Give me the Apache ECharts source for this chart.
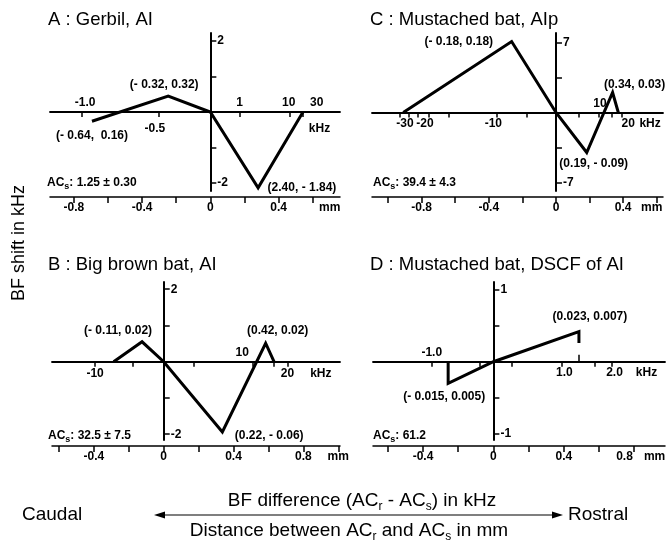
<!DOCTYPE html>
<html>
<head>
<meta charset="utf-8">
<script src="https://cdn.jsdelivr.net/npm/echarts@6/dist/echarts.min.js"></script>
<style>
  html, body { margin: 0; padding: 0; background: #fff; }
  #chart { width: 666px; height: 540px; }
</style>
</head>
<body>
<div id="chart"></div>
<script>
const FONT = '"Liberation Sans", Arial, Helvetica, sans-serif';

// A : Gerbil, AI  (distance in mm, BF shift in kHz)
const aDist  = [-0.694, -0.247, 0, 0.28, 0.543];
const aShift = [-0.26, 0.45, 0, -2.14, 0];
const aNotes = ['(- 0.64,  0.16)', '(- 0.32, 0.32)', '', '(2.40, - 1.84)', ''];

// B : Big brown bat, AI
const bDist  = [-0.287, -0.124, 0, 0.336, 0.584, 0.632];
const bShift = [0, 0.55, 0, -1.94, 0.51, 0];
const bNotes = ['', '(- 0.11, 0.02)', '', '(0.22, - 0.06)', '(0.42, 0.02)', ''];

// C : Mustached bat, AIp
const cDist  = [-0.909, -0.264, 0, 0.183, 0.337, 0.371];
const cShift = [0, 7.1, 0, -4.0, 2.0, 0];
const cNotes = ['', '(- 0.18, 0.18)', '', '(0.19, - 0.09)', '(0.34, 0.03)', ''];

// D : Mustached bat, DSCF of AI
const dDist  = [-0.257, -0.257, 0, 0.486, 0.486];
const dShift = [0, -0.30, 0, 0.42, 0.26];
const dNotes = ['', '(- 0.015, 0.005)', '', '(0.023, 0.007)', ''];

// mm axis ticks / labels
const aMmTicks = [-0.8, -0.6, -0.4, -0.2, 0, 0.2, 0.4, 0.6];
const aMmPos = [-0.8, -0.4, 0, 0.4, 0.70];
const aMmText = ['-0.8', '-0.4', '0', '0.4', 'mm'];
const bMmTicks = [-0.6, -0.4, -0.2, 0, 0.2, 0.4, 0.6, 0.8, 1.0];
const bMmPos = [-0.4, 0, 0.4, 0.8, 1.0];
const bMmText = ['-0.4', '0', '0.4', '0.8', 'mm'];
const cMmTicks = [-1.0, -0.8, -0.6, -0.4, -0.2, 0, 0.2, 0.4, 0.6];
const cMmPos = [-0.8, -0.4, 0, 0.4, 0.57];
const cMmText = ['-0.8', '-0.4', '0', '0.4', 'mm'];
const dMmTicks = [-0.6, -0.4, -0.2, 0, 0.2, 0.4, 0.6, 0.8];
const dMmPos = [-0.4, 0, 0.4, 0.745, 0.916];
const dMmText = ['-0.4', '0', '0.4', '0.8', 'mm'];

// kHz axis (nonlinear, placed at its mm position)
const aKTicks = [-0.753, -0.305, 0.172, 0.465, 0.543];
const aKUpPos = [-0.734, 0.172, 0.459, 0.623];
const aKUpText = ['-1.0', '1', '10', '30'];
const aKDownPos = [-0.325, 0.64];
const aKDownText = ['-0.5', 'kHz'];
const bKTicks = [-0.393, -0.176, 0.172, 0.508, 0.632, 0.709];
const bKUpPos = [0.45];
const bKUpText = ['10'];
const bKDownPos = [-0.393, 0.709, 0.9];
const bKDownText = ['-10', '20', 'kHz'];
const cKTicks = [-0.929, -0.879, -0.82, -0.76, -0.641, -0.353, -0.174, 0.133, 0.252, 0.332, 0.391];
const cKUpPos = [0.262];
const cKUpText = ['10'];
const cKDownPos = [-0.899, -0.78, -0.373, 0.43, 0.56];
const cKDownText = ['-30', '-20', '-10', '20', 'kHz'];
const dKTicks = [-0.35, -0.259, -0.076, 0.105, 0.389, 0.578, 0.673];
const dKUpTicks = [0.483];
const dKUpPos = [-0.35];
const dKUpText = ['-1.0'];
const dKDownPos = [0.403, 0.688, 0.87];
const dKDownText = ['1.0', '2.0', 'kHz'];

// BF shift axis
const aYTicks = [-2, -1, 1, 2];
const aYLabels = [-2, 2];
const bYTicks = [-2, -1, 1, 2];
const bYLabels = [-2, 2];
const cYTicks = [-7, -3.5, 3.5, 7];
const cYLabels = [-7, 7];
const dYTicks = [-1, -0.5, 0.5, 1];
const dYLabels = [-1, 1];

const small = { color: '#000', fontFamily: FONT, fontSize: 12, fontWeight: 'bold' };

const panels = [
  {
    grid: { left: 50, top: 33, width: 290, height: 158 },
    xMin: -0.94, xMax: 0.76, yMin: -2.23, yMax: 2.23,
    dist: aDist, shift: aShift, notes: aNotes,
    place: [
      { position: 'bottom', distance: 8 },
      { position: 'top', distance: 5, offset: [-4, 0] },
      null,
      { position: 'right', distance: 9 },
      null
    ],
    mmTicks: aMmTicks, mmPos: aMmPos, mmText: aMmText,
    kTicks: aKTicks, kUpTicks: [], kUpPos: aKUpPos, kUpText: aKUpText,
    kDownPos: aKDownPos, kDownText: aKDownText, kDownMargin: 11,
    yTicks: aYTicks, yLabels: aYLabels
  },
  {
    grid: { left: 372, top: 33, width: 291, height: 158 },
    xMin: -1.095, xMax: 0.637, yMin: -7.85, yMax: 7.95,
    dist: cDist, shift: cShift, notes: cNotes,
    place: [
      null,
      { position: 'left', distance: 18 },
      null,
      { position: 'bottom', distance: 5, offset: [7, 0] },
      { position: 'top', distance: 1, offset: [22, 0] },
      null
    ],
    mmTicks: cMmTicks, mmPos: cMmPos, mmText: cMmText,
    kTicks: cKTicks, kUpTicks: [], kUpPos: cKUpPos, kUpText: cKUpText,
    kDownPos: cKDownPos, kDownText: cKDownText, kDownMargin: 5,
    yTicks: cYTicks, yLabels: cYLabels
  },
  {
    grid: { left: 52, top: 282, width: 288, height: 158 },
    xMin: -0.64, xMax: 1.01, yMin: -2.16, yMax: 2.2,
    dist: bDist, shift: bShift, notes: bNotes,
    place: [
      null,
      { position: 'top', distance: 5, offset: [-24, 0] },
      null,
      { position: 'right', distance: 12, offset: [0, 4] },
      { position: 'top', distance: 6, offset: [12, 0] },
      null
    ],
    mmTicks: bMmTicks, mmPos: bMmPos, mmText: bMmText,
    kTicks: bKTicks, kUpTicks: [], kUpPos: bKUpPos, kUpText: bKUpText,
    kDownPos: bKDownPos, kDownText: bKDownText, kDownMargin: 6,
    yTicks: bYTicks, yLabels: bYLabels
  },
  {
    grid: { left: 373, top: 282, width: 292, height: 158 },
    xMin: -0.684, xMax: 0.975, yMin: -1.09, yMax: 1.11,
    dist: dDist, shift: dShift, notes: dNotes,
    place: [
      null,
      { position: 'bottom', distance: 7, offset: [-4, 0] },
      null,
      { position: 'top', distance: 8, offset: [11, 0] },
      null
    ],
    mmTicks: dMmTicks, mmPos: dMmPos, mmText: dMmText,
    kTicks: dKTicks, kUpTicks: dKUpTicks, kUpPos: dKUpPos, kUpText: dKUpText,
    kDownPos: dKDownPos, kDownText: dKDownText, kDownMargin: 5,
    yTicks: dYTicks, yLabels: dYLabels
  }
];

// label text lookup for custom tick positions
function textAt(pos, text) {
  return function (v) {
    for (let i = 0; i < pos.length; i++) {
      if (Math.abs(pos[i] - v) < 1e-4) return text[i];
    }
    return '';
  };
}

const grids = [], xAxes = [], yAxes = [], series = [];

panels.forEach(function (p, i) {
  grids.push(Object.assign({ outerBoundsMode: 'none', containLabel: false }, p.grid));

  // where BF shift = 0 sits inside the grid, from the top / bottom edge
  const h = p.grid.height;
  const zeroFromTop = h * p.yMax / (p.yMax - p.yMin);
  const zeroFromBottom = h - zeroFromTop;
  // where distance = 0 sits, from the right edge
  const zeroFromRight = p.grid.width * p.xMax / (p.xMax - p.xMin);

  // mm axis, below the plot
  xAxes.push({
    gridIndex: i, type: 'value', min: p.xMin, max: p.xMax, position: 'bottom', offset: 6,
    axisLine: { onZero: false, lineStyle: { color: '#000', width: 1.5 } },
    axisTick: { customValues: p.mmTicks, length: 6, lineStyle: { color: '#000', width: 1.5 } },
    axisLabel: Object.assign({ customValues: p.mmPos, formatter: textAt(p.mmPos, p.mmText), margin: 5 }, small),
    splitLine: { show: false }
  });
  // kHz axis, line at zero, labels above it
  xAxes.push({
    gridIndex: i, type: 'value', min: p.xMin, max: p.xMax, position: 'top', offset: -zeroFromTop,
    axisLine: { onZero: false, lineStyle: { color: '#000', width: 1.8 } },
    axisTick: { show: p.kUpTicks.length > 0, customValues: p.kUpTicks, length: 7, lineStyle: { color: '#000', width: 1.5 } },
    axisLabel: Object.assign({ customValues: p.kUpPos, formatter: textAt(p.kUpPos, p.kUpText), margin: 3 }, small),
    splitLine: { show: false }
  });
  // kHz axis, ticks and labels below the zero line
  xAxes.push({
    gridIndex: i, type: 'value', min: p.xMin, max: p.xMax, position: 'bottom', offset: -zeroFromBottom,
    axisLine: { show: false, onZero: false },
    axisTick: { customValues: p.kTicks, length: 5, lineStyle: { color: '#000', width: 1.5 } },
    axisLabel: Object.assign({ customValues: p.kDownPos, formatter: textAt(p.kDownPos, p.kDownText), margin: p.kDownMargin }, small),
    splitLine: { show: false }
  });

  // BF shift axis through distance = 0, ticks and labels to the right
  yAxes.push({
    gridIndex: i, type: 'value', min: p.yMin, max: p.yMax, position: 'right', offset: -zeroFromRight,
    axisLine: { onZero: false, lineStyle: { color: '#000', width: 2 } },
    axisTick: { customValues: p.yTicks, length: 6, lineStyle: { color: '#000', width: 1.5 } },
    axisLabel: Object.assign({ customValues: p.yLabels, margin: 7 }, small),
    splitLine: { show: false }
  });

  series.push({
    type: 'line',
    xAxisIndex: 3 * i,
    yAxisIndex: i,
    symbol: 'circle',
    symbolSize: 1,
    showSymbol: true,
    itemStyle: { color: 'rgba(0,0,0,0)' },
    lineStyle: { color: '#000', width: 3, join: 'miter' },
    label: Object.assign({ show: false }, small),
    silent: true,
    animation: false,
    data: p.dist.map(function (x, k) {
      const item = { value: [x, p.shift[k]] };
      if (p.notes[k]) {
        item.label = Object.assign({ show: true, formatter: p.notes[k] }, p.place[k]);
      }
      return item;
    })
  });
});

// titles and free text
const titleFont = '18.5px ' + FONT;
const capFont = '19px ' + FONT;
const sub = { s: { fontSize: 9, fontWeight: 'bold', fontFamily: FONT, verticalAlign: 'bottom' } };
const subCap = { s: { fontSize: 12, fontFamily: FONT, verticalAlign: 'bottom' } };

function txt(x, y, text, font, align, extra) {
  return Object.assign({
    type: 'text', x: x, y: y, silent: true,
    style: { text: text, font: font, fill: '#000', align: align || 'left', verticalAlign: 'middle' }
  }, extra || {});
}

function acs(x, y, value) {
  return {
    type: 'text', x: x, y: y, silent: true,
    style: {
      text: 'AC{s|s}: ' + value, fill: '#000', fontSize: 12, fontWeight: 'bold', fontFamily: FONT,
      lineHeight: 16, align: 'left', verticalAlign: 'middle', rich: sub
    }
  };
}

const graphic = [
  txt(48, 20, 'A : Gerbil, AI', titleFont),
  txt(370, 20, 'C : Mustached bat, AIp', titleFont),
  txt(48, 265, 'B : Big brown bat, AI', titleFont),
  txt(370, 265, 'D : Mustached bat, DSCF of AI', titleFont),
  acs(47, 183, '1.25 ± 0.30'),
  acs(373, 183, '39.4 ± 4.3'),
  acs(48, 436, '32.5 ± 7.5'),
  acs(373, 436, '61.2'),
  txt(19, 243, 'BF shift in kHz', '18px ' + FONT, 'center', { rotation: Math.PI / 2 }),
  txt(22, 515, 'Caudal', capFont),
  txt(568, 515, 'Rostral', capFont),
  {
    type: 'text', x: 362, y: 501, silent: true,
    style: {
      text: 'BF difference (AC{s|r} - AC{s|s}) in kHz', fill: '#000', fontSize: 19, fontFamily: FONT,
      lineHeight: 24, align: 'center', verticalAlign: 'middle', rich: subCap
    }
  },
  {
    type: 'text', x: 349, y: 531, silent: true,
    style: {
      text: 'Distance between AC{s|r} and AC{s|s} in mm', fill: '#000', fontSize: 19, fontFamily: FONT,
      lineHeight: 24, align: 'center', verticalAlign: 'middle', rich: subCap
    }
  },
  { type: 'line', silent: true, shape: { x1: 160, y1: 515, x2: 556, y2: 515 }, style: { stroke: '#000', lineWidth: 1.2 } },
  { type: 'polygon', silent: true, shape: { points: [[154, 515], [165, 511.5], [165, 518.5]] }, style: { fill: '#000' } },
  { type: 'polygon', silent: true, shape: { points: [[563, 515], [552, 511.5], [552, 518.5]] }, style: { fill: '#000' } }
];

const chart = echarts.init(document.getElementById('chart'), null, { renderer: 'canvas' });
chart.setOption({
  backgroundColor: '#fff',
  animation: false,
  grid: grids,
  xAxis: xAxes,
  yAxis: yAxes,
  series: series,
  graphic: graphic
});
</script>
</body>
</html>
